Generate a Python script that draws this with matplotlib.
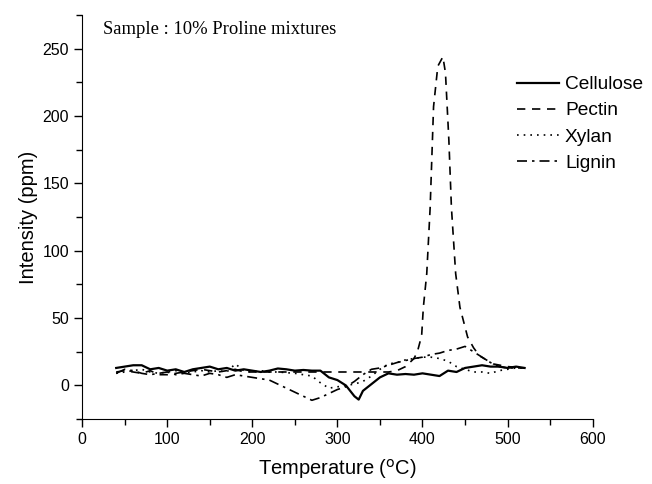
import numpy as np
import matplotlib.pyplot as plt
from matplotlib.ticker import MultipleLocator

plt.rcParams['font.family'] = ['Liberation Sans', 'DejaVu Sans']

# Cellulose
cel_t = [40, 50, 60, 70, 80, 90, 100, 110, 120, 130, 140, 150, 160, 170, 180, 190,
         200, 210, 220, 230, 240, 250, 260, 270, 280, 290, 300, 310, 320, 325, 330,
         340, 350, 360, 370, 380, 390, 400, 410, 420, 430, 440, 450, 460, 470, 480,
         490, 500, 510, 520]
cel_i = [13, 14, 15, 15, 12, 13, 11, 12, 10, 12, 13, 14, 12, 13, 11, 12,
         11, 10, 11, 12.6, 12, 11, 11.5, 11, 11, 6, 4, 0, -8, -10.5, -4,
         1, 6, 9, 8, 8.5, 8, 9, 8, 7, 11, 10, 13, 14, 15, 14,
         14, 13, 14, 13]

# Pectin
pec_t = [40, 50, 60, 70, 80, 90, 100, 110, 120, 130, 140, 150, 160, 170, 180, 190,
         200, 220, 240, 260, 280, 300, 320, 340, 360, 370, 380, 390, 394, 399, 401,
         405, 409, 413, 418, 424, 427, 431, 434, 439, 444, 453, 460, 467, 475, 483,
         500, 520]
pec_i = [10, 11, 10, 9, 11, 8, 8, 9, 10, 11, 12, 11, 10, 11, 12, 10,
         10, 10, 10, 10, 10, 10, 10, 10, 10, 11, 14, 20, 25, 37, 58,
         83, 132, 207, 237, 244, 232, 182, 132, 83, 58, 36, 28, 22, 19, 16,
         14, 13]

# Xylan
xyl_t = [40, 50, 60, 70, 80, 90, 100, 110, 120, 130, 140, 150, 160, 170, 180, 190,
         200, 210, 220, 230, 240, 250, 260, 270, 280, 290, 300, 310, 320, 330, 340,
         350, 360, 370, 380, 390, 400, 410, 420, 430, 440, 450, 460, 470, 480, 490,
         500, 510, 520]
xyl_i = [9, 10, 11, 12, 10, 9, 10, 11, 9, 10, 11, 10, 11, 10, 16, 11,
         10, 11, 10, 10, 9.5, 9, 8, 7, 2, -2, -1, 0, 1, 3, 7,
         12, 16, 17, 19, 20, 21, 21, 20, 18, 14, 12, 10, 10, 9, 11,
         12, 13, 13]

# Lignin
lig_t = xyl_t
lig_i = [9, 12, 11, 9, 8, 9, 10, 8, 9, 8, 7, 9, 8, 6, 8, 7,
         6, 5, 4, 1, -2, -5, -8, -11, -9, -6, -3, -1, 3, 8, 12,
         13, 15, 17, 18.5, 20, 21, 23, 24, 26, 27, 29, 25, 21, 17, 14,
         13, 13, 13]

fig = plt.figure(figsize=(6.52, 4.84), dpi=100)
ax = fig.add_axes([0.126, 0.134, 0.783, 0.835])

ax.plot(cel_t, cel_i, color='black', lw=1.6, ls='-', label='Cellulose')
ax.plot(pec_t, pec_i, color='black', lw=1.2, ls=(0, (5, 4)), label='Pectin')
ax.plot(xyl_t, xyl_i, color='black', lw=1.2, ls=(0, (1, 3)), label='Xylan')
ax.plot(lig_t, lig_i, color='black', lw=1.2, ls=(0, (6, 3, 1.5, 3)), label='Lignin')

ax.set_xlim(0, 600)
ax.set_ylim(-25, 275)
ax.xaxis.set_major_locator(MultipleLocator(100))
ax.xaxis.set_minor_locator(MultipleLocator(50))
ax.yaxis.set_major_locator(MultipleLocator(50))
ax.yaxis.set_minor_locator(MultipleLocator(25))
ax.set_yticks([0, 50, 100, 150, 200, 250])
ax.tick_params(which='major', direction='out', length=6, width=1, labelsize=11.5)
ax.tick_params(which='minor', direction='out', length=4, width=1)
ax.spines['top'].set_visible(False)
ax.spines['right'].set_visible(False)

ax.set_xlabel('Temperature ($^{\\mathrm{o}}$C)', fontsize=14.5, labelpad=7)
ax.set_ylabel('Intensity (ppm)', fontsize=14.5, labelpad=3)

fig.text(103 / 652, 1 - 30 / 484, 'Sample : 10% Proline mixtures',
         family='Liberation Serif', fontsize=13.4, va='center', ha='left')

ax.legend(loc='upper left', bbox_to_anchor=(517 / 652, 1 - 76 / 484),
          bbox_transform=fig.transFigure, frameon=False, fontsize=13.8,
          handlelength=2.2, handletextpad=0.3, labelspacing=0.45,
          borderaxespad=0, borderpad=0)

fig.savefig('out.png', dpi=100)
